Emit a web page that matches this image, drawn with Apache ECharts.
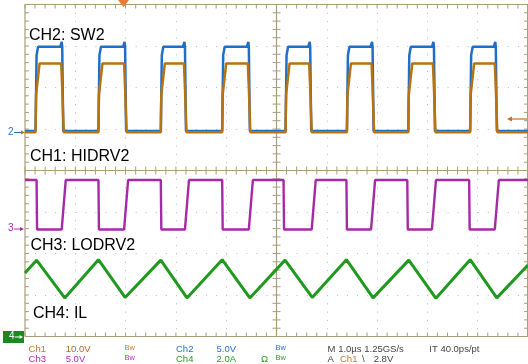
<!DOCTYPE html>
<html><head><meta charset="utf-8">
<script src="https://cdn.jsdelivr.net/npm/echarts@6/dist/echarts.min.js"></script>
<style>html,body{margin:0;padding:0;background:#fff}#c{width:528px;height:364px}</style>
</head><body><div id="c"></div>
<script>
// ---- time axis (µs, 1.0 µs/div) and vertical axis (divisions) ----
const xTicks = [0,1,2,3,4,5,6,7,8,9,10];
const yTicks = [-4,-3,-2,-1,0,1,2,3,4];

// ---- CH2 SW2 (blue) edges in µs and levels in div ----
const ch2Rise = [0.21,1.46,2.70,3.92,5.18,6.40,7.62,8.85];
const ch2Fall = [0.74,1.99,3.18,4.45,5.67,6.91,8.13,9.36];
const ch2Levels = [0.95, 2.98, 3.10]; // low, high, overshoot

// ---- CH1 HIDRV2 (orange) levels: low, rise step, high, fall step ----
const ch1Levels = [0.92, 1.82, 2.58, 1.99];

// ---- CH3 LODRV2 (purple) edges and levels ----
const ch3Fall = [0.23,1.46,2.70,3.92,5.14,6.39,7.60,8.83];
const ch3Rise = [0.73,1.97,3.18,4.45,5.70,6.88,8.09,9.34];
const ch3Levels = [-1.42, -0.23]; // low, high

// ---- CH4 IL (green) triangle vertices ----
const ilTimes  = [0, 0.23,0.79, 1.46,1.99, 2.70,3.22, 3.92,4.47, 5.17,5.71, 6.39,6.92, 7.63,8.17, 8.85,9.38, 10];
const ilValues = [-2.47, -2.16,-3.07, -2.15,-3.06, -2.16,-3.07, -2.15,-3.07, -2.16,-3.06, -2.15,-3.07, -2.16,-3.08, -2.15,-3.07, -2.28];

// ---- build traces ----
const blue = [[0, ch2Levels[0]]];
const orange = [[0, ch1Levels[0]]];
for (let i = 0; i < ch2Rise.length; i++) {
  const r = ch2Rise[i], f = ch2Fall[i];
  blue.push([r, ch2Levels[0]], [r + 0.02, ch2Levels[1] - 0.2], [r + 0.05, ch2Levels[1]],
            [f - 0.04, ch2Levels[1]], [f - 0.01, ch2Levels[2]], [f, ch2Levels[1]], [f + 0.02, ch2Levels[0]]);
  orange.push([r, ch1Levels[0]], [r + 0.01, ch1Levels[1]], [r + 0.08, ch1Levels[2]],
              [f - 0.02, ch1Levels[2]], [f, ch1Levels[3]], [f + 0.03, ch1Levels[0]]);
}
blue.push([10, ch2Levels[0]]);
orange.push([10, ch1Levels[0]]);

const purple = [[0, ch3Levels[1]]];
for (let i = 0; i < ch3Fall.length; i++) {
  purple.push([ch3Fall[i], ch3Levels[1]], [ch3Fall[i] + 0.01, ch3Levels[0]],
              [ch3Rise[i], ch3Levels[0]], [ch3Rise[i] + 0.08, ch3Levels[1]]);
}
purple.push([10, ch3Levels[1]]);

const green = ilTimes.map((t, i) => [t, ilValues[i]]);

const GRID = '#a89e7c';
const minorX = []; for (let v = 0; v <= 50; v++) minorX.push(v / 5);
const minorY = []; for (let v = -20; v <= 20; v++) minorY.push(v / 5);

const chart = echarts.init(document.getElementById('c'), null, {renderer: 'canvas'});

function line(x1, y1, x2, y2, w) {
  return {type: 'line', shape: {x1, y1, x2, y2}, style: {stroke: GRID, lineWidth: w || 1}};
}

const FONT = 'Liberation Sans, Arial, sans-serif';
function txt(x, y, s, color, size) {
  return {type: 'text', left: x, top: y, z: 100,
    style: {text: s, fill: color, font: (size || 9.5) + 'px ' + FONT}};
}

chart.setOption({
  animation: false,
  backgroundColor: '#fff',
  grid: {left: 25, top: 4.5, width: 503.5, height: 332, show: false},
  xAxis: {type: 'value', min: 0, max: 10, interval: 1,
    axisLine: {show: false}, axisTick: {show: false}, axisLabel: {show: false},
    splitLine: {show: true, lineStyle: {color: '#bdbdbd', width: 1, type: [1, 7.3]}}},
  yAxis: {type: 'value', min: -4, max: 4, interval: 1,
    axisLine: {show: false}, axisTick: {show: false}, axisLabel: {show: false},
    splitLine: {show: true, lineStyle: {color: '#bdbdbd', width: 1, type: [1, 9.06]}}},
  series: [
    {type: 'custom', z: 1, silent: true, data: [0],
      renderItem: function (params, api) {
        const ch = [];
        const L = api.coord([0, 0])[0], R = api.coord([10, 0])[0];
        const T = api.coord([0, 4])[1], B = api.coord([0, -4])[1];
        const cx = api.coord([5, 0])[0], cy = api.coord([0, 0])[1];
        ch.push(line(L, T, R, T, 1.2), line(L, B, R, B, 1.2), line(L, T, L, B, 1.2), line(R - 0.5, T, R - 0.5, B, 1));
        ch.push(line(L, cy, R, cy, 1.2), line(cx, T, cx, B, 1.2));
        minorX.forEach(v => {
          const x = api.coord([v, 0])[0];
          ch.push(line(x, T, x, T + 4), line(x, B - 4, x, B), line(x, cy - 4, x, cy + 4));
        });
        minorY.forEach(v => {
          const y = api.coord([0, v])[1];
          ch.push(line(L, y, L + 4, y), line(R - 4, y, R, y), line(cx - 4, y, cx + 4, y));
        });
        return {type: 'group', children: ch};
      }},
    {type: 'line', z: 3, data: blue, showSymbol: false, lineStyle: {color: '#1f6fc8', width: 2.5}},
    {type: 'line', z: 4, data: orange, showSymbol: false, lineStyle: {color: '#b8720e', width: 2.5}},
    {type: 'line', z: 3, data: purple, showSymbol: false, lineStyle: {color: '#a62aa8', width: 2.4}},
    {type: 'line', z: 3, data: green, showSymbol: false, lineStyle: {color: '#1f9a1f', width: 3}}
  ],
  graphic: [
    txt(29, 28, 'CH2: SW2', '#000', 16),
    txt(30, 149, 'CH1: HIDRV2', '#000', 16),
    txt(30.5, 238, 'CH3: LODRV2', '#000', 16),
    txt(33, 306, 'CH4: IL', '#000', 16),
    // trigger position marker
    {type: 'polygon', z: 100, shape: {points: [[118, 0], [129, 0], [123.5, 7]]}, style: {fill: '#f07a30'}},
    // trigger level arrow on the right
    {type: 'group', z: 100, children: [
      {type: 'line', shape: {x1: 510, y1: 119, x2: 527, y2: 119}, style: {stroke: '#c0702a', lineWidth: 1.2}},
      {type: 'polygon', shape: {points: [[507, 119], [512, 116.5], [512, 121.5]]}, style: {fill: '#c0702a'}}
    ]},
    // ground markers
    txt(8, 127, '2', '#2a70c8', 10),
    {type: 'line', z: 100, shape: {x1: 14, y1: 132.5, x2: 23, y2: 132.5}, style: {stroke: '#2a70c8', lineWidth: 1}},
    {type: 'polygon', z: 100, shape: {points: [[25, 132.5], [21, 130.5], [21, 134.5]]}, style: {fill: '#b8720e'}},
    txt(8, 223.5, '3', '#a62aa8', 10),
    {type: 'line', z: 100, shape: {x1: 14, y1: 229, x2: 22, y2: 229}, style: {stroke: '#a62aa8', lineWidth: 1}},
    {type: 'polygon', z: 100, shape: {points: [[24, 229], [20, 227], [20, 231]]}, style: {fill: '#a62aa8'}},
    {type: 'rect', z: 100, shape: {x: 3, y: 331, width: 21, height: 12}, style: {fill: '#1a8a1a'}},
    txt(9, 331.5, '4', '#fff', 10),
    {type: 'line', z: 101, shape: {x1: 15, y1: 337, x2: 21, y2: 337}, style: {stroke: '#fff', lineWidth: 1}},
    {type: 'polygon', z: 101, shape: {points: [[23, 337], [19.5, 335], [19.5, 339]]}, style: {fill: '#fff'}},
    // status rows
    txt(28.6, 344, 'Ch1', '#c07a3a'), txt(65.7, 344, '10.0V', '#b06a20'), txt(124.6, 344, 'Bw', '#c07a3a', 7.5),
    txt(176, 344, 'Ch2', '#2a70d0'), txt(216.5, 344, '5.0V', '#2a70d0'), txt(275.4, 344, 'Bw', '#2a70d0', 7.5),
    txt(327.6, 344, 'M 1.0µs 1.25GS/s', '#444'), txt(429.3, 344, 'IT 40.0ps/pt', '#444'),
    txt(28.6, 354, 'Ch3', '#b030b0'), txt(65.7, 354, '5.0V', '#b030b0'), txt(124.6, 354, 'Bw', '#b030b0', 7.5),
    txt(176, 354, 'Ch4', '#20a020'), txt(216.5, 354, '2.0A', '#20a020'), txt(261, 354, 'Ω', '#20a020'),
    txt(275.4, 354, 'Bw', '#20a020', 7.5),
    txt(327.6, 354, 'A', '#444'), txt(340, 354, 'Ch1', '#c07a3a'), txt(362, 354, '\\', '#444'), txt(373.7, 354, '2.8V', '#444')
  ]
});
</script>
</body></html>
